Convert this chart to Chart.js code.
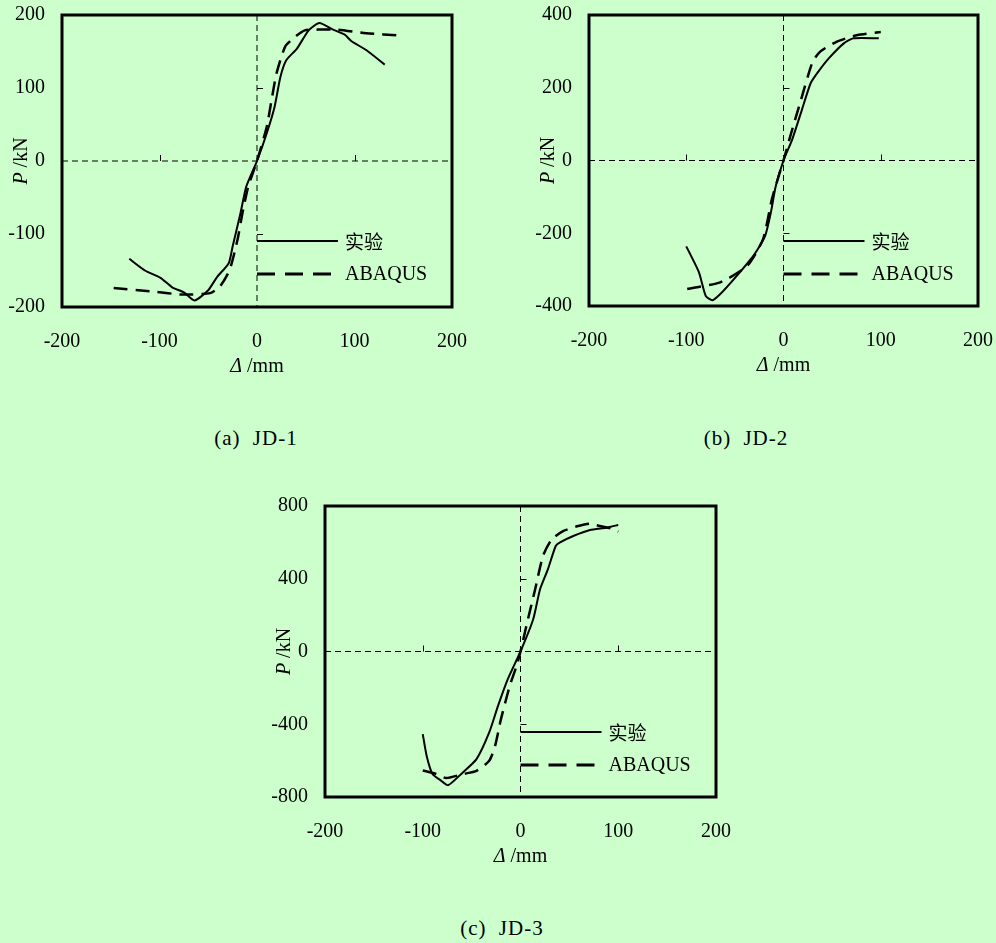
<!DOCTYPE html>
<html>
<head>
<meta charset="utf-8">
<script src="https://cdn.jsdelivr.net/npm/chart.js@4.4.1/dist/chart.umd.min.js"></script>
<style>
  body { margin: 0; background: #ccffcc; width: 996px; height: 943px; position: relative; overflow: hidden; font-family: "Liberation Serif", serif; }
  canvas { position: absolute; }
  .cap { position: absolute; font-size: 21px; line-height: 24px; letter-spacing: 1px; word-spacing: 6px; transform: translateX(-50%); white-space: nowrap; color: #000; }
</style>
</head>
<body>
<canvas id="chartA" width="490" height="390" style="left:0px;top:0px"></canvas>
<canvas id="chartB" width="496" height="390" style="left:500px;top:0px"></canvas>
<canvas id="chartC" width="490" height="390" style="left:250px;top:480px"></canvas>
<div class="cap" style="left:256px;top:426px">(a) JD-1</div>
<div class="cap" style="left:746px;top:426px">(b) JD-2</div>
<div class="cap" style="left:502px;top:916px">(c) JD-3</div>
<script>
// Tick labels
const xTicks = [-200, -100, 0, 100, 200];
const yTicksA = [-200, -100, 0, 100, 200];
const yTicksB = [-400, -200, 0, 200, 400];
const yTicksC = [-800, -400, 0, 400, 800];

// Legend labels
const legendLabels = ['实验', 'ABAQUS'];

// JD-1 (displacement mm / load kN)
const jd1TestX = [-131, -115, -99, -87, -75, -64, -50, -41, -29, -25, -17, -11, 0, 10, 18, 24, 30, 41, 53, 64, 78, 90, 97, 112, 131];
const jd1TestP = [-134, -150, -160, -173, -180, -191, -177, -159, -140, -117, -72, -35, 0, 38, 74, 115, 138, 154, 179, 189, 180, 173, 164, 152, 132];
const jd1FemX = [-147, -106, -76, -48, -38, -28, -20, -15, -9, 0, 10, 15, 20, 29, 39, 49, 65, 82, 112, 147];
const jd1FemP = [-174, -179, -183, -181, -172, -149, -108, -72, -35, 0, 47, 84, 120, 157, 170, 179, 180, 180, 175, 172];

// JD-2
const jd2TestX = [-100, -87, -80, -73, -65, -51, -31, -19, -13, -8, 0, 9, 19, 28, 36, 47, 62, 72, 98];
const jd2TestP = [-236, -307, -372, -384, -367, -326, -262, -208, -143, -71, 0, 58, 140, 213, 245, 282, 322, 336, 336];
const jd2FemX = [-99, -65, -37, -21, -12, -5, 0, 7, 18, 30, 38, 55, 76, 100];
const jd2FemP = [-353, -335, -289, -216, -107, -43, 0, 67, 167, 272, 300, 327, 345, 353];

// JD-3
const jd3TestX = [-100, -96, -90, -81, -74, -59, -45, -32, -23, -13, 0, 13, 20, 28, 36, 40, 54, 71, 88, 100];
const jd3TestP = [-454, -574, -674, -711, -735, -665, -592, -445, -299, -152, 0, 177, 342, 452, 580, 599, 635, 668, 681, 696];
const jd3FemX = [-100, -86, -76, -59, -45, -32, -26, -20, -11, -4, 0, 6, 15, 23, 32, 44, 59, 71, 81, 93, 100];
const jd3FemP = [-654, -674, -696, -674, -656, -601, -519, -372, -189, -79, 0, 141, 342, 525, 617, 663, 690, 703, 690, 676, 659];

const tickFont = { family: 'Liberation Serif', size: 20 };

function toPoints(xs, ys) {
  return xs.map((x, i) => ({ x: x, y: ys[i] }));
}

// Frame, dashed zero lines, small ticks, legend and axis titles
const decorPlugin = {
  id: 'decor',
  afterDatasetsDraw(chart) {
    const ctx = chart.ctx;
    const a = chart.chartArea;
    const xs = chart.scales.x;
    const ys = chart.scales.y;
    const x0 = xs.getPixelForValue(0);
    const y0 = ys.getPixelForValue(0);
    const yMax = ys.max;

    ctx.save();
    ctx.strokeStyle = '#000';
    ctx.lineWidth = 1;
    ctx.setLineDash([6, 4]);
    ctx.beginPath();
    ctx.moveTo(a.left, y0); ctx.lineTo(a.right, y0);
    ctx.moveTo(x0, a.top); ctx.lineTo(x0, a.bottom);
    ctx.stroke();
    ctx.setLineDash([]);

    // minor ticks on the zero lines
    ctx.beginPath();
    [-100, 100].forEach(v => {
      const px = Math.round(xs.getPixelForValue(v)) + 0.5;
      ctx.moveTo(px, y0); ctx.lineTo(px, y0 - 6);
    });
    [-yMax / 2, yMax / 2].forEach(v => {
      const py = Math.round(ys.getPixelForValue(v)) + 0.5;
      ctx.moveTo(x0, py); ctx.lineTo(x0 + 6, py);
    });
    ctx.stroke();

    // frame
    ctx.lineWidth = 3;
    ctx.strokeRect(a.left, a.top, a.right - a.left, a.bottom - a.top);

    // legend
    const cx = (a.left + a.right) / 2;
    ctx.lineWidth = 2;
    ctx.beginPath();
    ctx.moveTo(cx, a.top + 226); ctx.lineTo(cx + 81, a.top + 226);
    ctx.stroke();
    ctx.lineWidth = 3;
    ctx.setLineDash([18, 10]);
    ctx.beginPath();
    ctx.moveTo(cx, a.top + 259); ctx.lineTo(cx + 75, a.top + 259);
    ctx.stroke();
    ctx.setLineDash([]);
    ctx.fillStyle = '#000';
    ctx.textBaseline = 'middle';
    ctx.textAlign = 'left';
    ctx.font = '19px "Noto Sans CJK SC"';
    ctx.fillText(legendLabels[0], cx + 88, a.top + 227);
    ctx.font = '20px "Liberation Serif"';
    ctx.fillText(legendLabels[1], cx + 88, a.top + 260);

    // x title
    drawRich(ctx, 'Δ', ' /mm', cx, a.bottom + 60, 0);
    // y title
    drawRich(ctx, 'P', ' /kN', a.left - 40, (a.top + a.bottom) / 2, -Math.PI / 2);
    ctx.restore();
  }
};

function drawRich(ctx, italicPart, normalPart, x, y, rot) {
  ctx.save();
  ctx.translate(x, y);
  ctx.rotate(rot);
  ctx.font = 'italic 20px "Liberation Serif"';
  const w1 = ctx.measureText(italicPart).width;
  ctx.font = '20px "Liberation Serif"';
  const w2 = ctx.measureText(normalPart).width;
  let start = -(w1 + w2) / 2;
  ctx.textAlign = 'left';
  ctx.textBaseline = 'middle';
  ctx.font = 'italic 20px "Liberation Serif"';
  ctx.fillText(italicPart, start, 0);
  ctx.font = '20px "Liberation Serif"';
  ctx.fillText(normalPart, start + w1, 0);
  ctx.restore();
}

function makeChart(id, testX, testP, femX, femP, yTicks, padding) {
  const ctx = document.getElementById(id).getContext('2d');
  return new Chart(ctx, {
    type: 'scatter',
    data: {
      datasets: [
        {
          label: legendLabels[0],
          data: toPoints(testX, testP),
          showLine: true,
          borderColor: '#000',
          borderWidth: 2,
          pointRadius: 0,
          tension: 0.2
        },
        {
          label: legendLabels[1],
          data: toPoints(femX, femP),
          showLine: true,
          borderColor: '#000',
          borderWidth: 2.5,
          borderDash: [14, 8],
          pointRadius: 0,
          tension: 0.2
        }
      ]
    },
    options: {
      responsive: false,
      animation: false,
      devicePixelRatio: 1,
      layout: { padding: padding },
      plugins: { legend: { display: false }, tooltip: { enabled: false } },
      scales: {
        x: {
          type: 'linear',
          min: xTicks[0],
          max: xTicks[xTicks.length - 1],
          grid: { display: false, drawTicks: false },
          border: { display: false },
          afterBuildTicks: s => { s.ticks = xTicks.map(v => ({ value: v })); },
          afterFit: s => { s.height = 60; s.paddingLeft = 0; s.paddingRight = 0; },
          ticks: { font: tickFont, color: '#000', padding: 23, maxRotation: 0, autoSkip: false }
        },
        y: {
          type: 'linear',
          min: yTicks[0],
          max: yTicks[yTicks.length - 1],
          grid: { display: false, drawTicks: false },
          border: { display: false },
          afterBuildTicks: s => { s.ticks = yTicks.map(v => ({ value: v })); },
          afterFit: s => { s.width = 60; s.paddingTop = 0; s.paddingBottom = 0; },
          ticks: { font: tickFont, color: '#000', padding: 17, autoSkip: false }
        }
      }
    },
    plugins: [decorPlugin]
  });
}

makeChart('chartA', jd1TestX, jd1TestP, jd1FemX, jd1FemP, yTicksA, { left: 2, top: 15, right: 38, bottom: 23 });
makeChart('chartB', jd2TestX, jd2TestP, jd2FemX, jd2FemP, yTicksB, { left: 29, top: 15, right: 18, bottom: 24 });
makeChart('chartC', jd3TestX, jd3TestP, jd3FemX, jd3FemP, yTicksC, { left: 15, top: 26, right: 24, bottom: 13 });
</script>
</body>
</html>
